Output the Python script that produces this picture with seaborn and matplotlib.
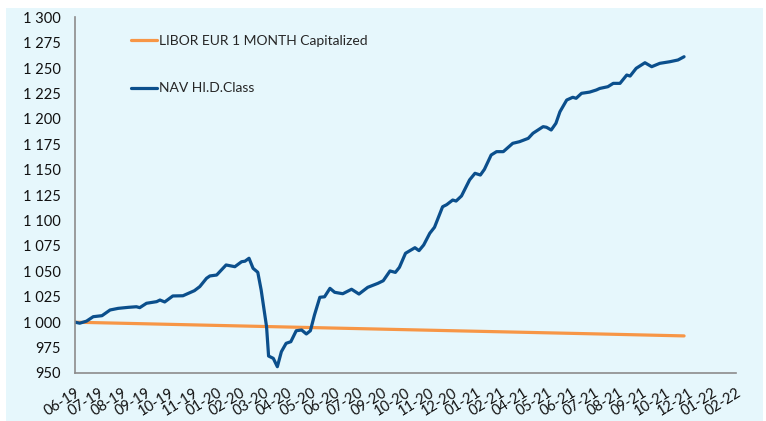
import matplotlib
matplotlib.use("Agg")
import matplotlib.pyplot as plt
import matplotlib.dates as mdates
from matplotlib.patches import Rectangle
from matplotlib.ticker import FuncFormatter, MultipleLocator
import pandas as pd
import seaborn as sns

# NAV of the HI.D share class
nav_dates = [
    "2019-06-07", "2019-06-14", "2019-06-24", "2019-07-04", "2019-07-17", "2019-07-29",
    "2019-08-10", "2019-08-25", "2019-09-06", "2019-09-11", "2019-09-21", "2019-10-06",
    "2019-10-11", "2019-10-18", "2019-10-30", "2019-11-14", "2019-12-01", "2019-12-09",
    "2019-12-19", "2019-12-24", "2020-01-03", "2020-01-17", "2020-01-30", "2020-02-09",
    "2020-02-14", "2020-02-20", "2020-02-26", "2020-03-04", "2020-03-09", "2020-03-17",
    "2020-03-20", "2020-03-27", "2020-04-02", "2020-04-08", "2020-04-15", "2020-04-22",
    "2020-04-30", "2020-05-08", "2020-05-15", "2020-05-21", "2020-05-27", "2020-06-04",
    "2020-06-11", "2020-06-19", "2020-06-26", "2020-07-08", "2020-07-21", "2020-08-01",
    "2020-08-14", "2020-08-29", "2020-09-06", "2020-09-16", "2020-09-24", "2020-09-30",
    "2020-10-09", "2020-10-23", "2020-10-29", "2020-11-05", "2020-11-14", "2020-11-21",
    "2020-12-03", "2020-12-09", "2020-12-18", "2020-12-23", "2020-12-31", "2021-01-12",
    "2021-01-20", "2021-01-28", "2021-02-03", "2021-02-13", "2021-02-21", "2021-03-03",
    "2021-03-17", "2021-03-27", "2021-04-09", "2021-04-16", "2021-05-01", "2021-05-06",
    "2021-05-13", "2021-05-20", "2021-05-26", "2021-06-05", "2021-06-14", "2021-06-19",
    "2021-06-27", "2021-07-09", "2021-07-19", "2021-07-24", "2021-08-05", "2021-08-13",
    "2021-08-23", "2021-09-02", "2021-09-07", "2021-09-16", "2021-09-29", "2021-10-09",
    "2021-10-21", "2021-11-05", "2021-11-17", "2021-11-26",
]
nav_values = [
    1000.0, 999.0, 1001.0, 1005.4, 1006.4, 1012.0,
    1013.6, 1014.6, 1015.2, 1014.3, 1018.6, 1020.2,
    1021.8, 1019.9, 1025.8, 1026.0, 1031.0, 1035.0,
    1043.2, 1045.5, 1046.4, 1056.3, 1054.6, 1059.5,
    1060.0, 1062.9, 1053.0, 1049.1, 1031.7, 995.6,
    966.7, 964.4, 956.2, 971.0, 979.2, 980.8,
    991.6, 992.3, 988.4, 991.6, 1007.0, 1024.5,
    1025.0, 1033.3, 1029.4, 1028.0, 1032.4, 1027.7,
    1034.3, 1038.2, 1040.8, 1050.4, 1049.0, 1054.0,
    1067.8, 1073.3, 1070.4, 1076.0, 1087.5, 1093.4,
    1113.6, 1115.6, 1120.2, 1119.2, 1124.2, 1140.0,
    1146.5, 1144.8, 1150.4, 1164.5, 1167.8, 1167.8,
    1176.0, 1177.6, 1180.9, 1185.9, 1192.4, 1191.8,
    1189.1, 1195.7, 1207.1, 1218.6, 1221.3, 1220.3,
    1225.2, 1226.4, 1228.5, 1230.0, 1231.7, 1235.0,
    1235.0, 1243.2, 1242.2, 1249.8, 1255.3, 1251.4,
    1254.7, 1256.3, 1258.0, 1261.2,
]

# Capitalized 1-month EUR LIBOR benchmark
libor_dates = ["2019-06-07", "2019-12-09", "2020-06-19", "2020-12-31", "2021-07-24", "2021-11-26"]
libor_values = [1000.0, 997.2, 994.3, 991.4, 988.4, 986.5]

libor_label = "LIBOR EUR 1 MONTH Capitalized"
nav_label = "NAV HI.D.Class"

axis_start = "2019-06-07"
axis_end = "2022-02-11"
y_min, y_max, y_step = 950, 1300, 25

nav_df = pd.DataFrame({"date": pd.to_datetime(nav_dates), "value": nav_values})
libor_df = pd.DataFrame({"date": pd.to_datetime(libor_dates), "value": libor_values})

sns.set_style("white")
plt.rcParams["font.family"] = ["Lato", "DejaVu Sans"]

W, H = 766, 421
fig = plt.figure(figsize=(W / 100, H / 100), dpi=100, facecolor="white")
fig.add_artist(Rectangle((6 / W, 0), (763 - 6) / W, (H - 8) / H,
                         transform=fig.transFigure, facecolor="#E6F7FC",
                         edgecolor="none", zorder=-10))
ax = fig.add_axes([75 / W, 1 - 373 / H, (736 - 75) / W, (373 - 17.3) / H])
ax.set_facecolor("none")

sns.lineplot(data=libor_df, x="date", y="value", ax=ax, color="#F79646",
             linewidth=2.3, label=libor_label)
sns.lineplot(data=nav_df, x="date", y="value", ax=ax, color="#0B4F8C",
             linewidth=2.3, label=nav_label)

ax.set_xlim(pd.Timestamp(axis_start), pd.Timestamp(axis_end))
ax.set_ylim(y_min, y_max)
ax.yaxis.set_major_locator(MultipleLocator(y_step))
ax.yaxis.set_major_formatter(FuncFormatter(lambda v, p: f"{int(v):,}".replace(",", " ")))
tick_dates = pd.date_range(axis_start, axis_end, freq="35D")
ax.set_xticks(tick_dates)
ax.xaxis.set_major_formatter(mdates.DateFormatter("%m-%y"))

ax.set_xlabel("")
ax.set_ylabel("")
for side in ("top", "right"):
    ax.spines[side].set_visible(False)
for side in ("left", "bottom"):
    ax.spines[side].set_color("#8C8C8C")
    ax.spines[side].set_linewidth(1.2)

ax.tick_params(axis="both", direction="out", length=4, width=1, color="#8C8C8C",
               labelcolor="#111111")
ax.tick_params(axis="y", pad=6, labelsize=10.5)
ax.tick_params(axis="x", pad=5, labelsize=10.5)
for lbl in ax.get_xticklabels():
    lbl.set_rotation(32)
    lbl.set_ha("right")
    lbl.set_va("top")
    lbl.set_rotation_mode("anchor")

leg = ax.legend(loc="upper left", bbox_to_anchor=(131 / W, 1 - 35 / H),
                bbox_transform=fig.transFigure, frameon=False, fontsize=10,
                handlelength=1.9, handletextpad=0.15, labelspacing=2.55,
                borderaxespad=0, borderpad=0)
for line in leg.get_lines():
    line.set_linewidth(2.3)

fig.savefig("out.png", dpi=100, facecolor="white")
